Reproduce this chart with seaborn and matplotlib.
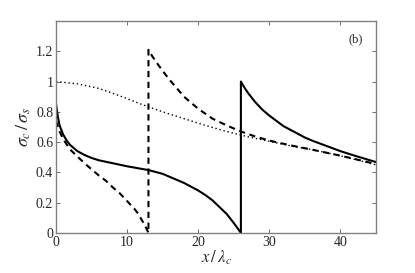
import numpy as np
import pandas as pd
import seaborn as sns
import matplotlib
matplotlib.use("Agg")
import matplotlib.pyplot as plt
from matplotlib.ticker import FormatStrFormatter

# solid curve (with jump at x = 26)
solid_x = [0, 0.25, 0.5, 1, 1.5, 2, 3, 4, 5, 6, 8, 10, 13, 15, 16, 17, 18, 19, 20, 21, 22, 23, 24, 25, 26,
           26, 26.5, 27, 27.5, 28, 29, 30, 31, 32, 33, 34, 35, 36, 38, 40, 42, 45]
solid_y = [0.85, 0.77, 0.71, 0.65, 0.61, 0.58, 0.54, 0.515, 0.495, 0.48, 0.46, 0.44, 0.415, 0.39, 0.37, 0.35, 0.33, 0.305, 0.28, 0.25, 0.215, 0.17, 0.125, 0.065, 0.0,
           1.0, 0.96, 0.925, 0.895, 0.865, 0.815, 0.775, 0.74, 0.705, 0.68, 0.655, 0.63, 0.61, 0.575, 0.54, 0.51, 0.468]

# dashed curve (with jump at x = 13)
dashed_x = [0, 0.5, 1, 2, 3, 4, 5, 6, 7, 8, 9, 10, 11, 11.5, 12, 12.5, 13,
            13, 13.5, 14, 15, 16, 17, 18, 19, 20, 22, 24, 26, 28, 30, 33, 36, 40, 45]
dashed_y = [0.74, 0.67, 0.62, 0.55, 0.505, 0.46, 0.42, 0.38, 0.345, 0.30, 0.26, 0.21, 0.16, 0.13, 0.09, 0.05, 0.0,
            1.21, 1.17, 1.135, 1.07, 1.01, 0.955, 0.90, 0.86, 0.82, 0.755, 0.71, 0.67, 0.637, 0.61, 0.578, 0.55, 0.51, 0.455]

# dotted curve
dotted_x = [0, 3, 6, 9, 12, 15, 18, 21, 24, 27, 30, 33, 36, 40, 45]
dotted_y = [1.0, 0.985, 0.955, 0.905, 0.85, 0.80, 0.755, 0.71, 0.67, 0.635, 0.605, 0.575, 0.55, 0.51, 0.45]

x_ticks = [0, 10, 20, 30, 40]
y_ticks = [0, 0.2, 0.4, 0.6, 0.8, 1.0, 1.2]

sns.set_style("ticks")
plt.rcParams["font.family"] = ["Liberation Serif", "DejaVu Serif"]
plt.rcParams["mathtext.fontset"] = "stix"
plt.rcParams["xtick.direction"] = "in"
plt.rcParams["ytick.direction"] = "in"

fig = plt.figure(figsize=(4.15, 2.73), dpi=100)
ax = fig.add_axes([0.135, 0.147, 0.771, 0.776])

sns.lineplot(x=solid_x, y=solid_y, sort=False, estimator=None, color="black",
             linewidth=1.5, ax=ax)
sns.lineplot(x=dashed_x, y=dashed_y, sort=False, estimator=None, color="black",
             linewidth=1.5, linestyle=(0, (3.0, 2.2)), ax=ax)
sns.lineplot(x=dotted_x, y=dotted_y, sort=False, estimator=None, color="black",
             linewidth=1.0, linestyle=(0, (1, 2)), ax=ax)

ax.set_xlim(0, 45)
ax.set_ylim(0, 1.4)
ax.set_xticks(x_ticks)
ax.set_yticks(y_ticks)
ax.yaxis.set_major_formatter(FormatStrFormatter("%g"))
ax.tick_params(top=True, right=True, length=3, width=0.6, labelsize=10,
               color="#555555", pad=2)
for s in ax.spines.values():
    s.set_color("#808080")
    s.set_linewidth(1.0)

ax.set_xlabel(r"$x\,/\,\lambda_c$", fontsize=12, labelpad=0)
ax.set_ylabel(r"$\sigma_c\,/\,\sigma_s$", fontsize=13, labelpad=2)
ax.text(0.935, 0.915, "(b)", transform=ax.transAxes, ha="center", va="center",
        fontsize=9)

fig.savefig("out.png", dpi=100)
